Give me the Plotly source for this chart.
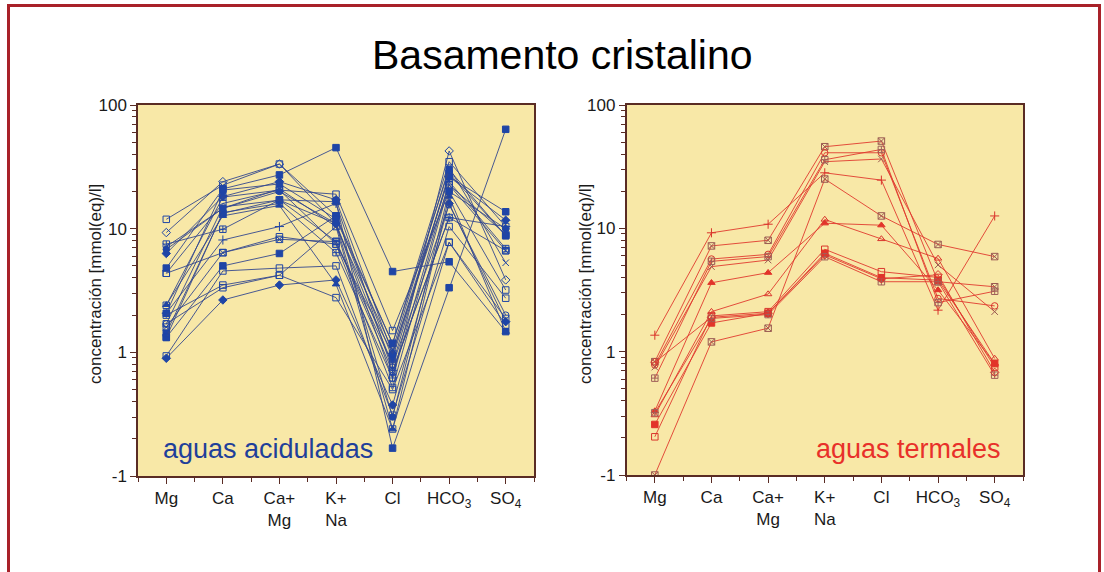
import plotly.graph_objects as go

# ---------------- data ----------------
categories = ["Mg", "Ca", "Ca+Mg", "K+Na", "Cl", "HCO3", "SO4"]
tick_labels = ["Mg", "Ca", "Ca+<br>Mg", "K+<br>Na", "Cl", "HCO<sub>3</sub>", "SO<sub>4</sub>"]
y_tick_values = [0.1, 1, 10, 100]
y_tick_labels = ["-1", "1", "10", "100"]

# aguas aciduladas (order: Mg, Ca, Ca+Mg, K+Na, Cl, HCO3, SO4)
acid_01 = [11.9, 22.5, 33.3, 12.7, 1.18, 34.8, 10.4]
acid_02 = [9.3, 24.0, 33.3, 11.0, 0.62, 42.5, 3.85]
acid_03 = [4.8, 21.0, 27.2, 45.2, 4.5, 5.4, 1.47]
acid_04 = [1.43, 13.3, 17.1, 16.5, 0.168, 3.33, 63.6]
acid_05 = [7.5, 9.9, 17.1, 7.9, 0.80, 28.0, 8.8]
acid_06 = [2.07, 8.1, 10.4, 16.0, 0.71, 12.3, 10.4]
acid_07 = [4.36, 6.4, 8.6, 7.5, 0.52, 22.6, 6.64]
acid_08 = [1.32, 5.0, 6.3, 12.7, 0.90, 26.3, 13.7]
acid_09 = [0.935, 4.55, 4.8, 5.0, 0.31, 10.4, 2.74]
acid_10 = [1.7, 3.33, 4.2, 2.77, 0.50, 7.76, 1.66]
acid_11 = [0.895, 2.65, 3.5, 3.85, 0.375, 16.0, 1.77]
acid_12 = [2.42, 12.7, 15.4, 3.55, 0.239, 18.2, 1.47]
acid_13 = [6.3, 18.2, 24.0, 17.1, 0.98, 26.3, 11.7]
acid_14 = [7.14, 14.6, 21.0, 10.4, 1.05, 31.3, 5.3]
acid_15 = [4.36, 16.0, 20.5, 19.0, 1.50, 20.0, 3.19]
acid_16 = [2.07, 20.5, 23.0, 12.0, 1.18, 30.0, 8.77]
acid_17 = [1.32, 13.5, 16.0, 6.4, 0.62, 24.0, 6.9]
acid_18 = [1.7, 15.0, 17.0, 11.0, 0.79, 15.6, 2.0]
acid_19 = [2.4, 18.0, 20.5, 7.5, 0.98, 22.6, 9.0]
acid_20 = [1.6, 6.4, 8.2, 7.86, 0.70, 12.3, 6.64]
acid_21 = [6.8, 14.6, 20.0, 11.0, 0.30, 20.0, 10.0]
acid_22 = [2.0, 3.5, 4.2, 10.4, 0.24, 7.76, 1.88]

# aguas termales
term_01 = [1.36, 9.2, 10.8, 28.2, 24.6, 2.17, 12.6]
term_02 = [0.83, 7.2, 8.0, 45.9, 51.0, 3.69, 3.36]
term_03 = [0.78, 5.64, 6.15, 41.0, 41.0, 2.7, 2.35]
term_04 = [0.75, 4.89, 5.53, 34.7, 36.5, 5.05, 2.11]
term_05 = [0.61, 5.4, 5.9, 36.0, 43.6, 2.5, 3.09]
term_06 = [0.10, 1.2, 1.55, 25.1, 12.6, 7.4, 5.9]
term_07 = [0.33, 3.62, 4.37, 11.0, 10.6, 3.16, 0.80]
term_08 = [0.306, 2.11, 2.93, 11.8, 8.2, 5.7, 0.88]
term_09 = [0.204, 1.95, 2.11, 6.76, 4.45, 4.0, 0.75]
term_10 = [0.257, 1.71, 2.05, 6.27, 3.98, 3.8, 0.80]
term_11 = [0.32, 1.86, 2.0, 5.89, 3.69, 3.69, 0.645]
term_12 = [0.82, 1.9, 2.05, 6.1, 3.9, 4.2, 0.68]

acid_series = [acid_01, acid_02, acid_03, acid_04, acid_05, acid_06, acid_07, acid_08,
               acid_09, acid_10, acid_11, acid_12, acid_13, acid_14, acid_15, acid_16,
               acid_17, acid_18, acid_19, acid_20, acid_21, acid_22]
term_series = [term_01, term_02, term_03, term_04, term_05, term_06, term_07, term_08,
               term_09, term_10, term_11, term_12]

# ---------------- styles ----------------
acid_symbols = ["square-open", "diamond-open", "square", "square", "square-cross-open",
                "cross-thin-open", "square-open", "square", "square-open", "square-open",
                "diamond", "triangle-up", "diamond", "x-thin-open", "square-open", "square",
                "square-cross-open", "circle-open", "square-open", "square-x-open", "circle",
                "square-open"]
term_symbols = ["cross-thin-open", "square-x-open", "circle-open", "x-thin-open",
                "square-cross-open", "square-x-open", "triangle-up", "triangle-up-open",
                "square-open", "square", "square-cross-open", "diamond-open"]
term_mark_colors = ["#d9352c", "#9a5a52", "#d9352c", "#9a5a52", "#a0605a", "#9a5a52",
                    "#e2342a", "#d9352c", "#d9352c", "#e2342a", "#a0605a", "#d9352c"]

ACID_LINE = "#34488e"
ACID_MARK = "#1f45a6"
TERM_LINE = "#e03a2f"
AXIS_COL = "#5a2c24"
BG = "#f8e8a7"
FONT = "Liberation Sans, Arial, sans-serif"

x_idx = list(range(len(categories)))

fig = go.Figure()

for s, sym in zip(acid_series, acid_symbols):
    fig.add_trace(go.Scatter(
        x=x_idx, y=s, mode="lines+markers", xaxis="x", yaxis="y",
        line=dict(color=ACID_LINE, width=0.9),
        marker=dict(symbol=sym, size=6.5, color=ACID_MARK,
                    line=dict(color=ACID_MARK, width=1)),
        showlegend=False, hoverinfo="skip"))

for s, sym, mc in zip(term_series, term_symbols, term_mark_colors):
    fig.add_trace(go.Scatter(
        x=x_idx, y=s, mode="lines+markers", xaxis="x2", yaxis="y2",
        line=dict(color=TERM_LINE, width=0.9),
        marker=dict(symbol=sym, size=6.5, color=mc,
                    line=dict(color=mc, width=1)),
        showlegend=False, hoverinfo="skip"))

W, H = 1104, 572


def px(xp):
    return xp / W


def py(yp):
    return 1 - yp / H


minor_y = [k * 10 ** e for e in (-1, 0, 1) for k in range(2, 10)]
minor_x = [i + 0.5 for i in range(-1, len(categories))]


def xaxis_cfg(a, b, anchor):
    return dict(domain=[px(a), px(b)], anchor=anchor, range=[-0.5, len(categories) - 0.5],
                automargin=False,
                tickmode="array", tickvals=x_idx, ticktext=tick_labels,
                ticks="outside", ticklen=6, tickwidth=1, tickcolor=AXIS_COL,
                minor=dict(tickmode="array", tickvals=minor_x, ticks="outside",
                           ticklen=4, tickwidth=1, tickcolor=AXIS_COL, showgrid=False),
                showline=True, linecolor=AXIS_COL, linewidth=1.5, mirror=True,
                showgrid=False, zeroline=False,
                tickfont=dict(family=FONT, size=17, color="#1a1a1a"))


def yaxis_cfg(top, bottom, anchor):
    return dict(domain=[py(bottom), py(top)], anchor=anchor, type="log", range=[-1, 2],
                automargin=False,
                tickmode="array", tickvals=y_tick_values, ticktext=y_tick_labels,
                ticks="outside", ticklen=6, tickwidth=1, tickcolor=AXIS_COL,
                minor=dict(tickmode="array", tickvals=minor_y, ticks="outside",
                           ticklen=4, tickwidth=1, tickcolor=AXIS_COL, showgrid=False),
                showline=True, linecolor=AXIS_COL, linewidth=1.5, mirror=True,
                showgrid=False, zeroline=False,
                tickfont=dict(family=FONT, size=17, color="#1a1a1a"))


fig.update_layout(
    width=W, height=H,
    margin=dict(l=0, r=0, t=0, b=0, pad=0, autoexpand=False),
    paper_bgcolor="white", plot_bgcolor=BG,
    xaxis=xaxis_cfg(138, 534, "y"),
    yaxis=yaxis_cfg(105, 476, "x"),
    xaxis2=xaxis_cfg(626.5, 1023, "y2"),
    yaxis2=yaxis_cfg(105, 475, "x2"),
    font=dict(family=FONT),
    annotations=[
        dict(text="Basamento cristalino", x=px(562), y=py(55), xref="paper", yref="paper",
             showarrow=False, font=dict(family=FONT, size=41, color="black"),
             xanchor="center", yanchor="middle"),
        dict(text="concentración [mmol(eq)/l]", x=px(95), y=py(284), xref="paper",
             yref="paper", showarrow=False, textangle=-90,
             font=dict(family=FONT, size=17, color="#1a1a1a"),
             xanchor="center", yanchor="middle"),
        dict(text="concentración [mmol(eq)/l]", x=px(585), y=py(284), xref="paper",
             yref="paper", showarrow=False, textangle=-90,
             font=dict(family=FONT, size=17, color="#1a1a1a"),
             xanchor="center", yanchor="middle"),
        dict(text="aguas aciduladas", x=px(268), y=py(449), xref="paper", yref="paper",
             showarrow=False, font=dict(family=FONT, size=27, color="#1f3f9a"),
             xanchor="center", yanchor="middle"),
        dict(text="aguas termales", x=px(908), y=py(449), xref="paper", yref="paper",
             showarrow=False, font=dict(family=FONT, size=27, color="#e8302a"),
             xanchor="center", yanchor="middle"),
    ],
    shapes=[
        dict(type="rect", xref="paper", yref="paper", x0=px(8.5), x1=px(1099.5),
             y0=-0.2, y1=py(5.5), line=dict(color="#a82129", width=3),
             fillcolor="rgba(0,0,0,0)", layer="below"),
    ],
)

fig.write_html("out.html",
               config={"displayModeBar": False},
               post_script="document.body.style.margin='0';document.body.style.padding='0';")
